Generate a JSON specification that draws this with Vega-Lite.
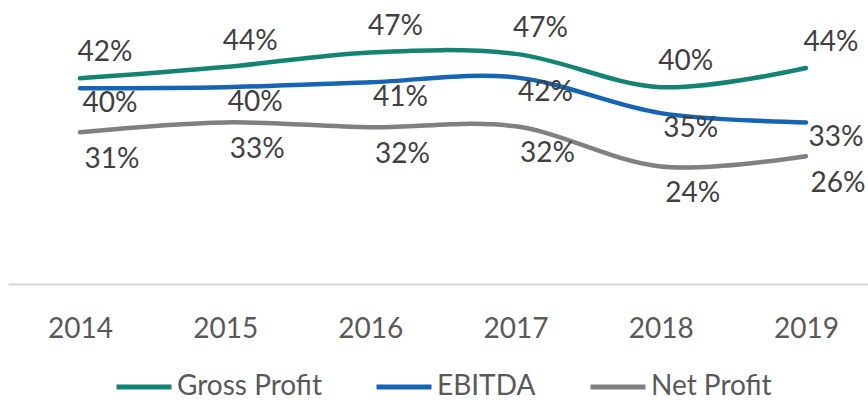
{
  "$schema": "https://vega.github.io/schema/vega-lite/v6.json",
  "width": 860,
  "height": 284,
  "autosize": "none",
  "padding": {"left": 8, "top": 0, "right": 0, "bottom": 116},
  "config": {"view": {"stroke": null}, "font": "Lato"},
  "data": {
    "values": [
      {"year": "2014", "series": "Gross Profit", "value": 0.42},
      {"year": "2015", "series": "Gross Profit", "value": 0.443},
      {"year": "2016", "series": "Gross Profit", "value": 0.473},
      {"year": "2017", "series": "Gross Profit", "value": 0.47},
      {"year": "2018", "series": "Gross Profit", "value": 0.402},
      {"year": "2019", "series": "Gross Profit", "value": 0.441},
      {"year": "2014", "series": "EBITDA", "value": 0.40},
      {"year": "2015", "series": "EBITDA", "value": 0.402},
      {"year": "2016", "series": "EBITDA", "value": 0.412},
      {"year": "2017", "series": "EBITDA", "value": 0.422},
      {"year": "2018", "series": "EBITDA", "value": 0.349},
      {"year": "2019", "series": "EBITDA", "value": 0.33},
      {"year": "2014", "series": "Net Profit", "value": 0.31},
      {"year": "2015", "series": "Net Profit", "value": 0.33},
      {"year": "2016", "series": "Net Profit", "value": 0.32},
      {"year": "2017", "series": "Net Profit", "value": 0.322},
      {"year": "2018", "series": "Net Profit", "value": 0.24},
      {"year": "2019", "series": "Net Profit", "value": 0.261}
    ]
  },
  "encoding": {
    "x": {
      "field": "year",
      "type": "ordinal",
      "scale": {"type": "point", "padding": 0.4614, "align": 0.537},
      "axis": {
        "title": null,
        "labelAngle": 0,
        "domainColor": "#d9d9d9",
        "domainWidth": 2,
        "ticks": false,
        "tickSize": 0,
        "grid": false,
        "labelFontSize": 28,
        "labelColor": "#595959",
        "labelBaseline": "alphabetic",
        "labelPadding": 53
      }
    },
    "y": {
      "field": "value",
      "type": "quantitative",
      "scale": {"domain": [0, 0.58], "nice": false},
      "axis": null
    }
  },
  "layer": [
    {
      "mark": {"type": "line", "interpolate": "cardinal", "strokeWidth": 4.5, "strokeCap": "round"},
      "encoding": {
        "color": {
          "field": "series",
          "type": "nominal",
          "scale": {"domain": ["Gross Profit", "EBITDA", "Net Profit"], "range": ["#138373", "#1565b4", "#808080"]},
          "legend": {
            "title": null,
            "orient": "none",
            "direction": "horizontal",
            "legendX": 106,
            "legendY": 357,
            "symbolType": "stroke",
            "symbolSize": 3025,
            "symbolStrokeWidth": 5,
            "labelFontSize": 28,
            "labelColor": "#595959",
            "labelOffset": 3,
            "columnPadding": 44,
            "padding": 0
          }
        }
      }
    },
    {
      "transform": [{"filter": "datum.series === 'Gross Profit'"}],
      "mark": {"type": "text", "dx": 25, "dy": -17, "baseline": "alphabetic", "fontSize": 28, "color": "#404040"},
      "encoding": {"text": {"field": "value", "type": "quantitative", "format": ".0%"}}
    },
    {
      "transform": [{"filter": "datum.series === 'EBITDA'"}],
      "mark": {"type": "text", "dx": 30, "dy": 24, "baseline": "alphabetic", "fontSize": 28, "color": "#404040"},
      "encoding": {"text": {"field": "value", "type": "quantitative", "format": ".0%"}}
    },
    {
      "transform": [{"filter": "datum.series === 'Net Profit'"}],
      "mark": {"type": "text", "dx": 32, "dy": 36, "baseline": "alphabetic", "fontSize": 28, "color": "#404040"},
      "encoding": {"text": {"field": "value", "type": "quantitative", "format": ".0%"}}
    }
  ]
}
